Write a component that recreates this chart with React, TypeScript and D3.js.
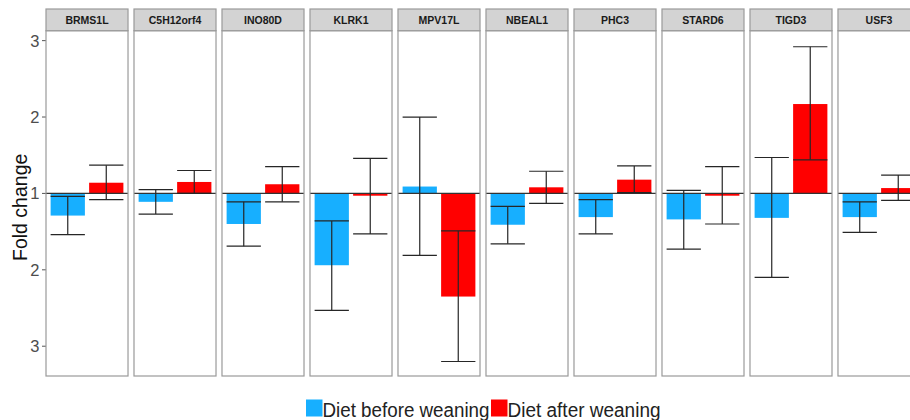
import React from 'react';
import * as d3 from 'd3';

// Fold change shown on a signed scale: 0 = no change, +1 = 2-fold up, -1 = 2-fold down
const genes = ['BRMS1L', 'C5H12orf4', 'INO80D', 'KLRK1', 'MPV17L', 'NBEAL1', 'PHC3', 'STARD6', 'TIGD3', 'USF3'];
const beforeMean = [-0.29, -0.11, -0.40, -0.94, 0.09, -0.41, -0.31, -0.34, -0.32, -0.31];
const beforeLow = [-0.54, -0.27, -0.69, -1.53, -0.81, -0.66, -0.53, -0.73, -1.10, -0.51];
const beforeHigh = [-0.04, 0.05, -0.11, -0.36, 1.0, -0.17, -0.08, 0.04, 0.47, -0.11];
const afterMean = [0.14, 0.15, 0.12, -0.03, -1.35, 0.08, 0.18, -0.03, 1.17, 0.07];
const afterLow = [-0.08, 0.0, -0.11, -0.53, -2.2, -0.13, 0.01, -0.40, 0.44, -0.09];
const afterHigh = [0.37, 0.30, 0.35, 0.46, -0.49, 0.29, 0.36, 0.35, 1.92, 0.24];

const groups = ['Diet before weaning', 'Diet after weaning'];
const groupColors = ['#17AFFF', '#FF0000'];
const yTicks = [-2, -1, 0, 1, 2];
const yTickLabels = ['3', '2', '1', '2', '3'];

const W = 910;
const H = 420;
const stripTop = 9;
const stripH = 21.7;
const panelTop = stripTop + stripH;
const panelBottom = 376;

const App = () => {
  const y = d3.scaleLinear().domain([-2.39, 2.13]).range([panelBottom, panelTop]);
  const xPanel = d3.scaleBand<string>().domain(genes).range([46, 920]).paddingInner(0.068).paddingOuter(0);
  const pw = xPanel.bandwidth();
  const xBar = d3.scaleBand<string>().domain(groups).range([0, pw]).paddingInner(0.11).paddingOuter(0.12);
  const bw = xBar.bandwidth();

  const series = [
    { mean: beforeMean, low: beforeLow, high: beforeHigh },
    { mean: afterMean, low: afterLow, high: afterHigh },
  ];

  const font = '"Liberation Sans", Arial, sans-serif';

  return (
    <div style={{ position: 'fixed', left: 0, top: 0 }}>
      <svg width={W} height={H} style={{ display: 'block', background: '#fff' }} fontFamily={font}>
        {/* y axis */}
        {yTicks.map((t, i) => (
          <g key={t}>
            <line x1={42} x2={46} y1={y(t)} y2={y(t)} stroke="#555" strokeWidth={1} />
            <text x={39.5} y={y(t)} dy="0.36em" textAnchor="end" fontSize={16.5} fill="#4D4D4D">
              {yTickLabels[i]}
            </text>
          </g>
        ))}
        <text
          transform={`translate(27, ${(panelTop + panelBottom) / 2 + 4}) rotate(-90)`}
          textAnchor="middle"
          fontSize={19.5}
          fill="#111"
        >
          Fold change
        </text>

        {genes.map((g, gi) => {
          const px = xPanel(g)!;
          return (
            <g key={g} transform={`translate(${px},0)`}>
              <rect x={0} y={panelTop} width={pw} height={panelBottom - panelTop} fill="#fff" />
              {series.map((s, si) => {
                const bx = xBar(groups[si])!;
                const v = s.mean[gi];
                return (
                  <rect
                    key={si}
                    x={bx}
                    y={Math.min(y(v), y(0))}
                    width={bw}
                    height={Math.max(Math.abs(y(v) - y(0)), 1)}
                    fill={groupColors[si]}
                  />
                );
              })}
              <line x1={0} x2={pw} y1={y(0)} y2={y(0)} stroke="#333" strokeWidth={1.3} />
              {series.map((s, si) => {
                const bx = xBar(groups[si])!;
                const cx = bx + bw / 2;
                const lo = y(s.low[gi]);
                const hi = y(s.high[gi]);
                return (
                  <g key={'e' + si} stroke="#262626" strokeWidth={1.2}>
                    <line x1={cx} x2={cx} y1={lo} y2={hi} />
                    <line x1={bx} x2={bx + bw} y1={lo} y2={lo} />
                    <line x1={bx} x2={bx + bw} y1={hi} y2={hi} />
                  </g>
                );
              })}
              <rect x={0} y={panelTop} width={pw} height={panelBottom - panelTop} fill="none" stroke="#9A9A9A" strokeWidth={1.2} />
              <rect x={0} y={stripTop} width={pw} height={stripH} fill="#D3D3D3" stroke="#9A9A9A" strokeWidth={1.2} />
              <text x={pw / 2} y={stripTop + stripH / 2} dy="0.36em" textAnchor="middle" fontSize={10.5} fontWeight="bold" fill="#1A1A1A">
                {g}
              </text>
            </g>
          );
        })}

        {/* legend */}
        <g>
          <rect x={306} y={399.5} width={16.5} height={17} fill={groupColors[0]} />
          <text x={322.5} y={416.5} fontSize={19.5} fill="#222" textLength={167} lengthAdjust="spacingAndGlyphs">{groups[0]}</text>
          <rect x={491} y={399.5} width={16.5} height={17} fill={groupColors[1]} />
          <text x={507.5} y={416.5} fontSize={19.5} fill="#222" textLength={153} lengthAdjust="spacingAndGlyphs">{groups[1]}</text>
        </g>
      </svg>
    </div>
  );
};

export default App;
